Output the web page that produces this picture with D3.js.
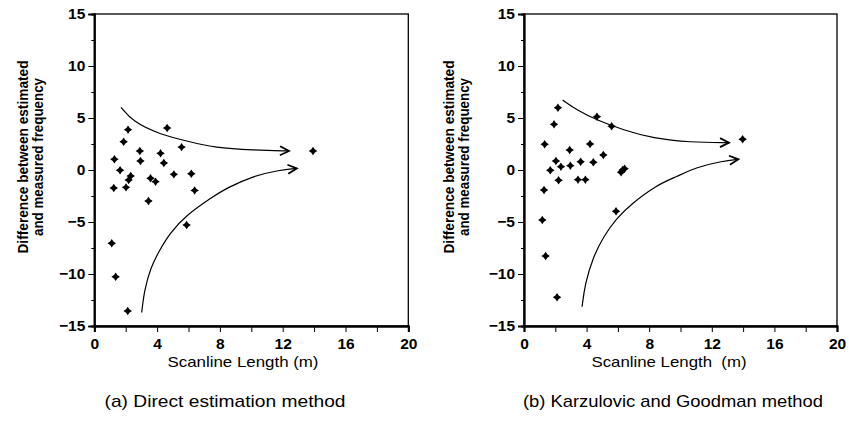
<!DOCTYPE html>
<html>
<head>
<meta charset="utf-8">
<script src="https://cdn.jsdelivr.net/npm/d3@7"></script>
<style>
  body { margin: 0; background: #fff; }
  text { font-family: "Liberation Sans", Arial, sans-serif; fill: #000; }
  .tick text { font-size: 15.5px; font-weight: bold; }
</style>
</head>
<body>
<svg id="chart" width="849" height="430"></svg>
<script>
// (a) Direct estimation method - points
var aX = [4.64, 2.15, 1.87, 2.9, 4.22, 5.56, 1.28, 2.94, 4.43, 1.64, 5.07, 6.18, 2.32, 2.19, 3.58, 3.9, 1.24, 2.02, 6.39, 3.45, 5.88, 1.11, 13.93, 1.36, 2.13];
var aY = [4.04, 3.88, 2.72, 1.83, 1.6, 2.2, 1.03, 0.87, 0.67, -0.03, -0.42, -0.36, -0.58, -0.96, -0.8, -1.12, -1.73, -1.67, -1.96, -2.98, -5.29, -7.05, 1.83, -10.26, -13.56];

// (b) Karzulovic and Goodman method - points
var bX = [2.17, 1.92, 4.66, 5.6, 1.32, 2.92, 4.22, 5.07, 2.04, 2.36, 1.68, 2.96, 3.62, 4.43, 2.21, 3.45, 3.92, 6.2, 6.3, 6.43, 1.28, 5.88, 1.17, 1.38, 2.11, 13.97];
var bY = [5.99, 4.39, 5.13, 4.2, 2.47, 1.92, 2.5, 1.44, 0.87, 0.32, -0.03, 0.42, 0.8, 0.74, -0.99, -0.93, -0.93, -0.22, 0.0, 0.13, -1.92, -3.97, -4.81, -8.27, -12.24, 2.95];

// trend arrows (hand drawn in the original)
var aUpX = [1.7, 2.45, 4.15, 6.07, 7.67, 10.1, 12.4];
var aUpY = [6.03, 4.65, 3.43, 2.72, 2.15, 1.92, 1.83];
var aLowX = [3.02, 3.19, 3.62, 4.05, 4.79, 5.86, 7.56, 8.4, 10.1, 11.8, 12.9];
var aLowY = [-13.7, -11.5, -9.3, -8.01, -6.09, -4.33, -2.56, -1.76, -0.58, 0.0, 0.16];
var bUpX = [2.47, 3.37, 4.64, 6.35, 8.26, 10.6, 13.1];
var bUpY = [6.73, 5.77, 4.81, 3.85, 3.04, 2.66, 2.63];
var bLowX = [3.71, 3.9, 4.43, 5.07, 5.92, 6.77, 8.47, 9.76, 11.0, 12.7, 13.7];
var bLowY = [-13.15, -10.9, -8.33, -6.41, -4.65, -3.37, -1.44, -0.64, 0.26, 0.87, 1.03];

var xMajor = [0, 4, 8, 12, 16, 20];
var xMinor = [2, 6, 10, 14, 18];
var yMajor = [-15, -10, -5, 0, 5, 10, 15];
var yMinor = [-12.5, -7.5, -2.5, 2.5, 7.5, 12.5];

var svg = d3.select("#chart");

svg.append("defs").append("marker")
    .attr("id", "arrow")
    .attr("viewBox", "-10 -6 12 12")
    .attr("refX", 0).attr("refY", 0)
    .attr("markerWidth", 12).attr("markerHeight", 12)
    .attr("markerUnits", "userSpaceOnUse")
    .attr("orient", "auto")
    .append("path")
    .attr("d", "M-9,-4.5 L0,0 L-9,4.5")
    .attr("fill", "none")
    .attr("stroke", "#000")
    .attr("stroke-width", 1.8);

// little 4-point star like the original marker
var star = {
    draw: function(ctx, size) {
        var r = Math.sqrt(size) / 2, k = r * 0.4;
        ctx.moveTo(0, -r); ctx.lineTo(k, -k); ctx.lineTo(r, 0); ctx.lineTo(k, k);
        ctx.lineTo(0, r); ctx.lineTo(-k, k); ctx.lineTo(-r, 0); ctx.lineTo(-k, -k);
        ctx.closePath();
    }
};

function drawPanel(left, right, xs, ys, curves, ytitleX, xtitle, xtitleX, xtitleW, caption, captionX, captionW) {
    var x = d3.scaleLinear().domain([0, 20]).range([left, right]);
    var y = d3.scaleLinear().domain([-15, 15]).range([326, 14]);
    var g = svg.append("g");

    // frame
    g.append("rect")
        .attr("x", left).attr("y", 14)
        .attr("width", right - left).attr("height", 312)
        .attr("fill", "none").attr("stroke", "#000").attr("stroke-width", 1.3);

    var yAx = g.append("g").attr("transform", "translate(" + left + ",0)")
        .call(d3.axisLeft(y).tickValues(yMajor).tickSize(6).tickFormat(d3.format("d")));
    g.append("g").attr("transform", "translate(" + left + ",0)")
        .call(d3.axisLeft(y).tickValues(yMinor).tickSize(3).tickFormat(""));
    var xAx = g.append("g").attr("transform", "translate(0,326)")
        .call(d3.axisBottom(x).tickValues(xMajor).tickSize(6));
    g.append("g").attr("transform", "translate(0,326)")
        .call(d3.axisBottom(x).tickValues(xMinor).tickSize(6).tickFormat(""));

    g.selectAll(".domain").attr("stroke-width", 1.8);
    g.selectAll(".tick line").attr("stroke-width", 1);
    yAx.selectAll("text").attr("x", -9);
    xAx.selectAll("text").attr("y", 12);

    // trend curves
    var line = d3.line().x(function(d) { return x(d[0]); }).y(function(d) { return y(d[1]); })
        .curve(d3.curveBasis);
    curves.forEach(function(c) {
        var pts = c[0].map(function(v, i) { return [v, c[1][i]]; });
        g.append("path").datum(pts)
            .attr("d", line)
            .attr("fill", "none").attr("stroke", "#000").attr("stroke-width", 1.2)
            .attr("marker-end", "url(#arrow)");
    });

    // points
    g.selectAll(".pt").data(xs).enter().append("path")
        .attr("class", "pt")
        .attr("transform", function(d, i) { return "translate(" + x(d) + "," + y(ys[i]) + ")"; })
        .attr("d", d3.symbol().type(star).size(72))
        .attr("fill", "#000");

    // y title
    var t = g.append("text")
        .attr("transform", "translate(" + ytitleX + "," + 157 + ") rotate(-90)")
        .attr("text-anchor", "middle")
        .attr("font-size", 14).attr("font-weight", "bold");
    t.append("tspan").attr("x", 0).attr("dy", 0)
        .attr("textLength", 193).attr("lengthAdjust", "spacingAndGlyphs")
        .text("Difference between estimated");
    t.append("tspan").attr("x", 0).attr("dy", 14.5)
        .attr("textLength", 158).attr("lengthAdjust", "spacingAndGlyphs")
        .text("and measured frequency");

    g.append("text")
        .attr("x", xtitleX).attr("y", 367)
        .attr("text-anchor", "middle").attr("font-size", 15)
        .attr("textLength", xtitleW).attr("lengthAdjust", "spacingAndGlyphs")
        .attr("xml:space", "preserve")
        .text(xtitle);

    g.append("text")
        .attr("x", captionX).attr("y", 407)
        .attr("text-anchor", "middle").attr("font-size", 17)
        .attr("textLength", captionW).attr("lengthAdjust", "spacingAndGlyphs")
        .text(caption);
}

drawPanel(94.3, 408.3, aX, aY, [[aUpX, aUpY], [aLowX, aLowY]], 28,
    "Scanline Length (m)", 243, 151, "(a) Direct estimation method", 225, 241);
drawPanel(524, 837, bX, bY, [[bUpX, bUpY], [bLowX, bLowY]], 454,
    "Scanline Length  (m)", 669, 155, "(b) Karzulovic and Goodman method", 673, 300);
</script>
</body>
</html>
